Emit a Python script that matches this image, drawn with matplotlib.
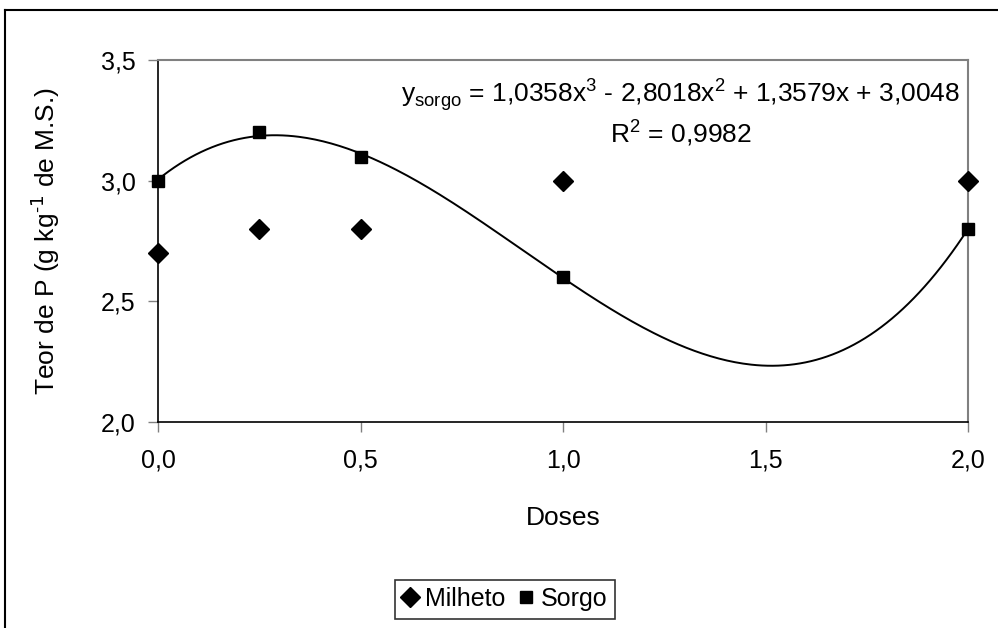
"""
    Teor de P - Milheto e Sorgo
"""

import numpy as np
import matplotlib.pyplot as plt
from matplotlib.lines import Line2D

plt.rcParams['font.family'] = ['Liberation Sans', 'DejaVu Sans']

doses = [0.0, 0.25, 0.5, 1.0, 2.0]
milheto = [2.7, 2.8, 2.8, 3.0, 3.0]
sorgo = [3.0, 3.2, 3.1, 2.6, 2.8]

# trendline coefficients shown in the chart (cubic, sorgo)
coef_sorgo = [1.0358, -2.8018, 1.3579, 3.0048]

x_ticks = [0.0, 0.5, 1.0, 1.5, 2.0]
y_ticks = [2.0, 2.5, 3.0, 3.5]

fs = 19

fig = plt.figure(figsize=(9.98, 6.28), dpi=100)

# outer frame of the picture (top and left only visible)
fig.add_artist(Line2D([5 / 998, 1], [1 - 10 / 628, 1 - 10 / 628],
                      transform=fig.transFigure, color='black', lw=1.5))
fig.add_artist(Line2D([5 / 998, 5 / 998], [0, 1 - 10 / 628],
                      transform=fig.transFigure, color='black', lw=1.5))

ax = fig.add_axes([158 / 998, 1 - 422 / 628, 810 / 998, 362 / 628])

xs = np.linspace(0, 2, 300)
ax.plot(xs, np.polyval(coef_sorgo, xs), color='black', lw=1.4, zorder=2)

ax.plot(doses, milheto, 'D', color='black', ms=10, clip_on=False,
        zorder=3, label='Milheto')
ax.plot(doses, sorgo, 's', color='black', ms=9, clip_on=False,
        zorder=3, label='Sorgo')

ax.set_xlim(0, 2)
ax.set_ylim(2, 3.5)
ax.set_xticks(x_ticks)
ax.set_yticks(y_ticks)
ax.set_xticklabels([f'{v:.1f}'.replace('.', ',') for v in x_ticks])
ax.set_yticklabels([f'{v:.1f}'.replace('.', ',') for v in y_ticks])
ax.tick_params(axis='both', direction='out', length=7, width=1,
               color='#808080', labelsize=18)
ax.tick_params(axis='x', pad=12)
ax.tick_params(axis='y', pad=9)

for side in ['top', 'right']:
    ax.spines[side].set_color('#808080')
    ax.spines[side].set_linewidth(1.5)
for side in ['left', 'bottom']:
    ax.spines[side].set_color('black')
    ax.spines[side].set_linewidth(1.2)

ax.set_xlabel('Doses', fontsize=fs)
ax.xaxis.set_label_coords(0.5, -(518 - 422) / 362)
ax.xaxis.label.set_va('center')
ax.set_ylabel('Teor de P (g kg$^{\\mathregular{\u2010}1}$ de M.S.)', fontsize=fs)
ax.yaxis.set_label_coords(-(158 - 45) / 810, 0.5)
ax.yaxis.label.set_va('center')

ax.text(0.99, 0.905,
        r'y$_{\mathregular{sorgo}}$ = 1,0358x$^{\mathregular{3}}$ - 2,8018x$^{\mathregular{2}}$ + 1,3579x + 3,0048',
        transform=ax.transAxes, ha='right', va='center', fontsize=fs)
ax.text(0.645, 0.80, r'R$^{\mathregular{2}}$ = 0,9982',
        transform=ax.transAxes, ha='center', va='center', fontsize=fs)

leg = fig.legend(loc='center', bbox_to_anchor=(505 / 998, 1 - 599 / 628),
                 ncol=2, fontsize=18, frameon=True, fancybox=False,
                 handlelength=0.6, handletextpad=0.3, columnspacing=0.5,
                 borderpad=0.3, borderaxespad=0)
leg.get_frame().set_edgecolor('black')
leg.get_frame().set_linewidth(1.2)

fig.savefig('out.png', dpi=100)
